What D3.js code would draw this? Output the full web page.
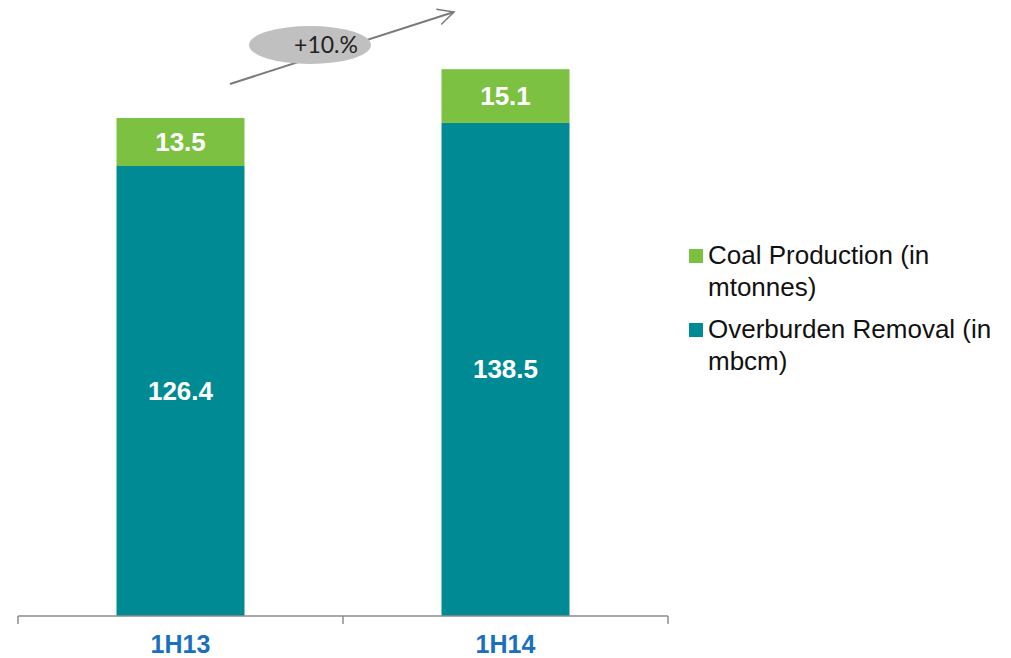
<!DOCTYPE html>
<html>
<head>
<meta charset="utf-8">
<script src="https://cdn.jsdelivr.net/npm/d3@7"></script>
<style>
  body { margin: 0; background: #fff; }
  svg { display: block; font-family: Arial, "Liberation Sans", sans-serif; }
</style>
</head>
<body>
<div id="chart"></div>
<script>
// data
var categories = ['1H13', '1H14'];
var overburden = [126.4, 138.5];
var coal = [13.5, 15.1];
var seriesNames = ['Coal Production (in mtonnes)', 'Overburden Removal (in mbcm)'];
var growthLabel = '+10.%';

var width = 1011, height = 658,
    tealFill = '#008b94',
    greenFill = '#7dc142',
    axisColor = '#8c8c8c',
    labelBlue = '#1a70c0';

var svg = d3.select('#chart').append('svg')
    .attr('width', width)
    .attr('height', height);

var x = d3.scaleBand()
    .domain(categories)
    .range([18, 668])
    .paddingInner(0)
    .paddingOuter(0);

var y = d3.scaleLinear()
    .domain([0, 160])
    .range([616, 616 - 160 * 3.56]);

var barWidth = 128;

// stacked rows
var rows = categories.map(function (c, i) {
    return {cat: c, ob: overburden[i], coal: coal[i]};
});

var g = svg.append('g');

// Overburden segment
g.selectAll('.ob').data(rows).enter().append('rect')
    .attr('class', 'ob')
    .attr('x', function (d) { return x(d.cat) + x.bandwidth() / 2 - barWidth / 2; })
    .attr('width', barWidth)
    .attr('y', function (d) { return y(d.ob); })
    .attr('height', function (d) { return y(0) - y(d.ob); })
    .attr('fill', tealFill);

// Coal segment on top
g.selectAll('.coal').data(rows).enter().append('rect')
    .attr('class', 'coal')
    .attr('x', function (d) { return x(d.cat) + x.bandwidth() / 2 - barWidth / 2; })
    .attr('width', barWidth)
    .attr('y', function (d) { return y(d.ob + d.coal); })
    .attr('height', function (d) { return y(d.ob) - y(d.ob + d.coal); })
    .attr('fill', greenFill);

// value labels
g.selectAll('.obLabel').data(rows).enter().append('text')
    .attr('x', function (d) { return x(d.cat) + x.bandwidth() / 2; })
    .attr('y', function (d) { return y(d.ob / 2) + 9; })
    .attr('text-anchor', 'middle')
    .attr('fill', '#fff')
    .attr('font-weight', 'bold')
    .attr('font-size', 26)
    .text(function (d) { return d.ob.toFixed(1); });

g.selectAll('.coalLabel').data(rows).enter().append('text')
    .attr('x', function (d) { return x(d.cat) + x.bandwidth() / 2; })
    .attr('y', function (d) { return y(d.ob + d.coal / 2) + 9; })
    .attr('text-anchor', 'middle')
    .attr('fill', '#fff')
    .attr('font-weight', 'bold')
    .attr('font-size', 26)
    .text(function (d) { return d.coal.toFixed(1); });

// x axis: baseline with ticks at band edges
var axisG = svg.append('g');
var r = x.range();
axisG.append('line')
    .attr('x1', r[0]).attr('x2', r[1])
    .attr('y1', y(0)).attr('y2', y(0))
    .attr('stroke', axisColor).attr('stroke-width', 1.5);
var edges = categories.map(function (c) { return x(c); }).concat([r[1]]);
axisG.selectAll('.tick').data(edges).enter().append('line')
    .attr('x1', function (d) { return d; }).attr('x2', function (d) { return d; })
    .attr('y1', y(0)).attr('y2', y(0) + 8)
    .attr('stroke', axisColor).attr('stroke-width', 1.5);
axisG.selectAll('.catLabel').data(categories).enter().append('text')
    .attr('x', function (d) { return x(d) + x.bandwidth() / 2; })
    .attr('y', 653)
    .attr('text-anchor', 'middle')
    .attr('fill', labelBlue)
    .attr('font-weight', 'bold')
    .attr('font-size', 25)
    .text(function (d) { return d; });

// growth arrow + bubble
var defs = svg.append('defs');
defs.append('marker')
    .attr('id', 'arrowHead')
    .attr('viewBox', '0 0 20 20')
    .attr('refX', 18).attr('refY', 10)
    .attr('markerWidth', 20).attr('markerHeight', 20)
    .attr('markerUnits', 'userSpaceOnUse')
    .attr('orient', 'auto')
    .append('path')
    .attr('d', 'M2,2 L18,10 L2,18')
    .attr('fill', 'none')
    .attr('stroke', '#7a7a7a')
    .attr('stroke-width', 1.5);

svg.append('line')
    .attr('x1', 230).attr('y1', 84)
    .attr('x2', 454).attr('y2', 12)
    .attr('stroke', '#7a7a7a')
    .attr('stroke-width', 2)
    .attr('marker-end', 'url(#arrowHead)');

svg.append('ellipse')
    .attr('cx', 310).attr('cy', 45)
    .attr('rx', 61).attr('ry', 19)
    .attr('fill', '#c0c0c0');

svg.append('text')
    .attr('x', 326).attr('y', 53)
    .attr('text-anchor', 'middle')
    .attr('font-family', 'Lato, "Open Sans", sans-serif')
    .attr('font-size', 23)
    .attr('fill', '#222')
    .text(growthLabel);

// legend
var legendItems = [
    {name: seriesNames[0], color: greenFill, lines: ['Coal Production (in', 'mtonnes)']},
    {name: seriesNames[1], color: tealFill, lines: ['Overburden Removal (in', 'mbcm)']}
];
var legend = svg.append('g').attr('transform', 'translate(689,248)');
var item = legend.selectAll('.item').data(legendItems).enter().append('g')
    .attr('transform', function (d, i) { return 'translate(0,' + (i * 74) + ')'; });
item.append('rect')
    .attr('width', 14).attr('height', 14)
    .attr('y', 1)
    .attr('fill', function (d) { return d.color; });
item.append('text')
    .attr('x', 19)
    .attr('y', 16)
    .attr('font-size', 26)
    .attr('fill', '#111')
    .selectAll('tspan').data(function (d) { return d.lines; }).enter().append('tspan')
    .attr('x', 19)
    .attr('dy', function (d, i) { return i === 0 ? 0 : 32; })
    .text(function (d) { return d; });
</script>
</body>
</html>
